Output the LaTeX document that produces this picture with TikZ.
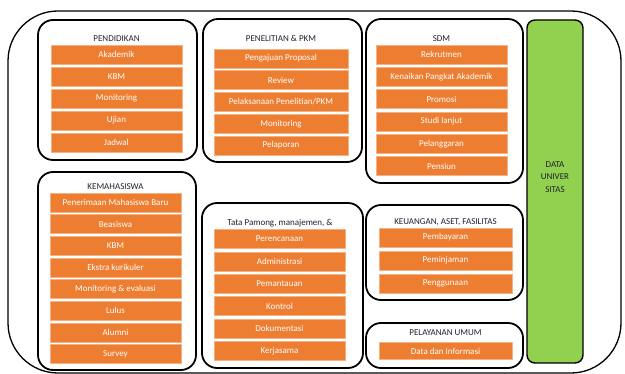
\documentclass[tikz,border=0pt]{standalone}
\usepackage{fontspec}
\setmainfont{Carlito}
\definecolor{boxor}{HTML}{ED7D31}
\definecolor{boxedge}{HTML}{F4B183}
\definecolor{datagreen}{HTML}{92D050}
\definecolor{titlecol}{HTML}{202030}
\begin{document}
\begin{tikzpicture}[x=1pt,y=-1pt,
  obox/.style={fill=boxor,draw=boxedge,line width=0.6pt,text=white,font=\fontsize{9}{10}\selectfont,minimum height=19pt,inner sep=0pt},
  gbox/.style={draw=black,line width=1.8pt,rounded corners=15pt,inner sep=0pt},
  gtitle/.style={text=titlecol,font=\fontsize{9}{10}\selectfont,inner sep=0pt}]
\useasboundingbox (0,0) rectangle (625,374);
% outer container
\node[draw=black,line width=1.3pt,rounded corners=50pt,minimum width=613pt,minimum height=362pt,inner sep=0pt] (outer) at (314.5,192) {};
% group boxes
\node[gbox,minimum width=159pt,minimum height=140pt] (g1) at (117.5,90) {};
\node[gbox,minimum width=159pt,minimum height=143pt] (g2) at (282.5,90.5) {};
\node[gbox,minimum width=157pt,minimum height=164pt] (g3) at (444.5,101) {};
\node[gbox,minimum width=158pt,minimum height=198pt] (g4) at (117,271) {};
\node[gbox,minimum width=161pt,minimum height=165pt] (g5) at (282.5,285.5) {};
\node[gbox,minimum width=157pt,minimum height=95pt] (g6) at (444.5,252.5) {};
\node[gbox,minimum width=157pt,minimum height=45pt] (g7) at (444.5,345.5) {};
% data universitas
\node[draw=black,line width=1.4pt,fill=datagreen,rounded corners=8pt,minimum width=56pt,minimum height=343pt,inner sep=0pt] (data) at (555,191.5) {};
\node[text=titlecol,font=\fontsize{9}{12.5}\selectfont,align=center,inner sep=0pt] (datalbl) at (555,177) {DATA\\UNIVER\\SITAS};
% titles
\node[gtitle] (t1) at (116.5,39) {PENDIDIKAN};
\node[gtitle] (t2) at (281,38) {PENELITIAN \& PKM};
\node[gtitle] (t3) at (441.5,39) {SDM};
\node[gtitle] (t4) at (115.5,187) {KEMAHASISWA};
\node[gtitle] (t5) at (280,223) {Tata Pamong, manajemen, \&};
\node[gtitle] (t6) at (445.5,222) {KEUANGAN, ASET, FASILITAS};
\node[gtitle] (t7) at (445.5,333) {PELAYANAN UMUM};
% PENDIDIKAN
\foreach \t [count=\i from 0] in {Akademik,KBM,Monitoring,Ujian,Jadwal}
  \node[obox,minimum width=131pt] (a\i) at (116.5,54.5+22*\i) {\t};
% PENELITIAN
\foreach \t [count=\i from 0] in {Pengajuan Proposal,Review,Pelaksanaan Penelitian/PKM,Monitoring,Pelaporan}
  \node[obox,minimum width=134pt] (b\i) at (281,58.5+21.75*\i) {\t};
% SDM
\foreach \t [count=\i from 0] in {Rekrutmen,Kenaikan Pangkat Akademik,Promosi,Studi lanjut,Pelanggaran,Pensiun}
  \node[obox,minimum width=131pt] (c\i) at (441.5,54.5+22.3*\i) {\t};
% KEMAHASISWA
\foreach \t [count=\i from 0] in {Penerimaan Mahasiswa Baru,Beasiswa,KBM,Ekstra kurikuler,Monitoring \& evaluasi,Lulus,Alumni,Survey}
  \node[obox,minimum width=131pt] (d\i) at (115.5,202.5+21.64*\i) {\t};
% TATA PAMONG
\foreach \t [count=\i from 0] in {Perencanaan,Administrasi,Pemantauan,Kontrol,Dokumentasi,Kerjasama}
  \node[obox,minimum width=131pt] (e\i) at (279.5,239+22.4*\i) {\t};
% KEUANGAN
\foreach \t [count=\i from 0] in {Pembayaran,Peminjaman,Penggunaan}
  \node[obox,minimum width=133pt] (f\i) at (445.5,237.5+23*\i) {\t};
% PELAYANAN UMUM
\node[obox,minimum width=133pt,minimum height=17pt] (h0) at (445.5,351) {Data dan Informasi};
\end{tikzpicture}
\end{document}
